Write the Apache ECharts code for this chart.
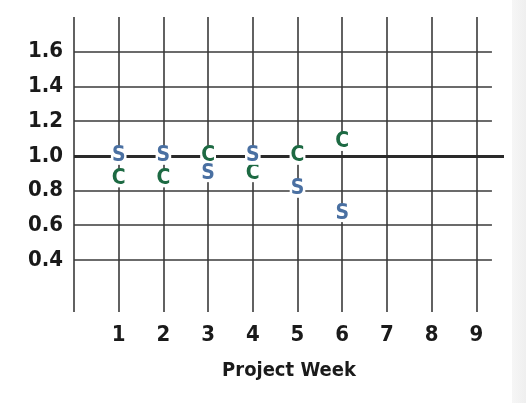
<!DOCTYPE html>
<html>
<head>
<meta charset="utf-8">
<script src="https://cdn.jsdelivr.net/npm/echarts@6/dist/echarts.min.js"></script>
<style>
html,body{margin:0;padding:0;background:#fff;}
#wrap{position:relative;width:526px;height:403px;background:#fff;}
#strip{position:absolute;left:512px;top:0;width:14px;height:403px;background:linear-gradient(to right,#f6f6f6,#efefef);}
#chart{position:absolute;left:0;top:0;width:526px;height:403px;}
</style>
</head>
<body>
<div id="wrap"><div id="strip"></div><div id="chart"></div></div>
<script>
const weeks = [1, 2, 3, 4, 5, 6];
const sValues = [1.0, 1.0, 0.9, 1.0, 0.81, 0.67];
const cValues = [0.87, 0.87, 1.0, 0.9, 1.0, 1.08];
const xTicks = [1, 2, 3, 4, 5, 6, 7, 8, 9];
const xGridLines = [0, 1, 2, 3, 4, 5, 6, 7, 8, 9];
const yTicks = [0.4, 0.6, 0.8, 1.0, 1.2, 1.4, 1.6];
const baseline = 1.0;

const FONT = '"DejaVu Sans Condensed", "Liberation Sans Narrow", sans-serif';
const lineColor = '#3a3a3a';
const xMax = 9.62;
const gridEnd = 9.35;

const chart = echarts.init(document.getElementById('chart'), null, {renderer: 'canvas'});

const hLines = yTicks.filter(v => v !== baseline).map(v => [
  {coord: [0, v]}, {coord: [gridEnd, v]}
]);
const vLines = xGridLines.map(v => [
  {coord: [v, 0.1]}, {coord: [v, 1.8]}
]);

function letterSeries(name, letter, values, color, z) {
  return {
    name: name,
    type: 'scatter',
    z: z,
    symbolSize: 2,
    itemStyle: {color: 'rgba(255,255,255,0)'},
    data: weeks.map((w, i) => [w, values[i]]),
    label: {
      show: true,
      position: 'inside',
      formatter: letter,
      color: color,
      opacity: 1,
      fontFamily: FONT,
      fontWeight: 'bold',
      fontSize: 21,
      backgroundColor: '#ffffff',
      textBorderWidth: 0,
      padding: [0, 1, 0, 1],
      lineHeight: 18
    },
    labelLayout: {hideOverlap: false},
    emphasis: {disabled: true}
  };
}

chart.setOption({
  animation: false,
  backgroundColor: 'transparent',
  grid: {left: 74, right: 22, top: 17, bottom: 91, containLabel: false},
  xAxis: {
    type: 'value',
    min: 0,
    max: xMax,
    axisLine: {show: false},
    axisTick: {show: false},
    splitLine: {show: false},
    axisLabel: {
      customValues: xTicks,
      color: '#1a1a1a',
      fontFamily: FONT,
      fontWeight: 'bold',
      fontSize: 22,
      margin: 12
    },
    name: 'Project Week',
    nameLocation: 'middle',
    nameGap: 49,
    nameTextStyle: {
      color: '#1a1a1a',
      fontFamily: FONT,
      fontWeight: 'bold',
      fontSize: 20
    }
  },
  yAxis: {
    type: 'value',
    min: 0.1,
    max: 1.8,
    axisLine: {show: false},
    axisTick: {show: false},
    splitLine: {show: false},
    axisLabel: {
      customValues: yTicks,
      formatter: v => v.toFixed(1),
      color: '#1a1a1a',
      fontFamily: FONT,
      fontWeight: 'bold',
      fontSize: 22,
      margin: 11
    }
  },
  series: [
    {
      name: 'grid',
      type: 'scatter',
      z: 1,
      symbolSize: 0,
      data: [[0, 1]],
      silent: true,
      markLine: {
        silent: true,
        z: 1,
        symbol: 'none',
        animation: false,
        label: {show: false},
        lineStyle: {color: lineColor, width: 1.6, type: 'solid'},
        emphasis: {disabled: true},
        data: vLines.concat(hLines).concat([
          [{coord: [0, baseline], lineStyle: {width: 3, color: '#2a2a2a'}},
           {coord: [xMax, baseline]}]
        ])
      }
    },
    letterSeries('C', 'C', cValues, '#1d6a43', 10),
    letterSeries('S', 'S', sValues, '#4a70a2', 11)
  ]
});
</script>
</body>
</html>
